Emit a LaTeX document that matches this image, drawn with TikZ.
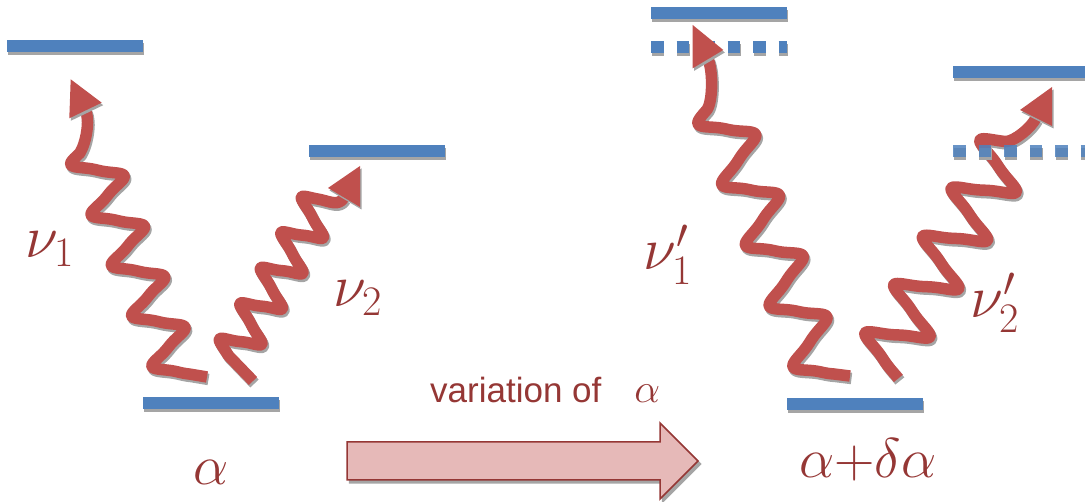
\RequirePackage{fix-cm}
\documentclass[tikz,border=0pt]{standalone}
\usepackage{fontspec}
\newfontfamily\captionsans{Liberation Sans}
\definecolor{barblue}{HTML}{4F81BD}
\definecolor{wavered}{HTML}{C0504D}
\definecolor{textred}{HTML}{953735}
\definecolor{arrowfill}{HTML}{E6B9B8}
\definecolor{shadowgrey}{HTML}{A5A5A5}
\begin{document}
\begin{tikzpicture}[x=1pt,y=-1pt,
  declare function={zz(\t)=0.9*(cos(360*\t)+cos(1080*\t)/9);},
  level/.style={rectangle, fill=barblue, minimum width=136pt, minimum height=12pt,
    inner sep=0pt, outer sep=0pt,
    preaction={fill=shadowgrey, transform canvas={shift={(0.8pt,-3pt)}}}},
  dashlevel/.style={draw=barblue, line width=12pt, dash pattern=on 12.5pt off 13pt,
    preaction={draw=shadowgrey, line width=12pt, dash pattern=on 12.5pt off 13pt,
      transform canvas={shift={(0.8pt,-3pt)}}}},
  photon/.style={draw=wavered, line width=11.5pt, line join=round,
    preaction={draw=shadowgrey, line width=11.5pt, line join=round,
      transform canvas={shift={(1.5pt,-2.5pt)}}}},
  photonhead/.style={fill=wavered,
    preaction={fill=shadowgrey, transform canvas={shift={(1.5pt,-2.5pt)}}}},
  freqlabel/.style={text=textred, inner sep=0pt, anchor=base west,
    font=\fontsize{60}{60}\selectfont},
  statelabel/.style={text=textred, inner sep=0pt, anchor=base,
    font=\fontsize{56}{56}\selectfont},
  bigarrow/.style={fill=arrowfill, draw=textred, line width=1.5pt, line join=miter,
    preaction={fill=shadowgrey, draw=shadowgrey, line width=1.5pt,
      transform canvas={shift={(2.5pt,-3pt)}}}}
]
\useasboundingbox (0,0) rectangle (1085,502);

% ---- left scheme: levels for alpha ----
\node[level] (upA)   at (75,46.5) {};
\node[level] (upB)   at (377,151) {};
\node[level] (gnd)   at (211,403) {};

% photon nu_1
\draw[photon] (207,377) -- plot[variable=\t, domain=-0.35:4.15, samples=221]
  ({173.6-20.3*\t-21.6*zz(\t)}, {359.5-50.5*\t+7*zz(\t)})
  .. controls (86,143) and (90.2,120.4) .. (85.5,110.5);
\fill[photonhead] (70.7,79.3) -- (69.3,118.3) -- (101.7,102.7) -- cycle;

% photon nu_2
\draw[photon] (253,381) -- plot[variable=\t, domain=-0.2:4.2, samples=221]
  ({235.5+20.5*\t-16*zz(\t)}, {350.5-35.5*\t-11.4*zz(\t)})
  .. controls (329,201) and (338.6,207) .. (344,197.5);
\fill[photonhead] (360,166) -- (328,188) -- (360,207) -- cycle;

\node[freqlabel] (nuA) at (25,258) {$\nu_1$};
\node[freqlabel] (nuB) at (333,307) {$\nu_2$};
\node[statelabel] (alphaA) at (211,485) {$\alpha$};

% ---- variation arrow ----
\draw[bigarrow] (347,442) -- (660,442) -- (660,423) -- (698,461)
  -- (660,499) -- (660,480) -- (347,480) -- cycle;
\node[text=textred, inner sep=0pt, anchor=base west,
  font=\captionsans\fontsize{35}{35}\selectfont] (vary) at (430,403)
  {variation of\hspace{33pt}{\fontsize{41}{41}\selectfont$\alpha$}};

% ---- right scheme: levels for alpha + delta alpha ----
\node[level] (upAs)  at (719,13) {};
\draw[dashlevel] (651,47.5) -- (787,47.5);
\node[level] (upBs)  at (1021,72) {};
\node[level] (gnds)  at (855,404) {};

% photon nu_1'
\draw[photon] (850,376) -- plot[variable=\t, domain=-0.35:4.15, samples=221]
  ({815.9-23.75*\t-22.9*zz(\t)}, {357-60.75*\t+9.8*zz(\t)})
  .. controls (713,100) and (712.9,70.1) .. (708,59.2);
\fill[photonhead] (692.7,25) -- (692.7,68.3) -- (723.3,50) -- cycle;

% photon nu_2'
\draw[photon] plot[variable=\t, domain=-0.42:4.2, samples=221]
  ({890.3+28.75*\t-25.3*zz(\t)}, {347-48.25*\t-14.05*zz(\t)})
  .. controls (1015,141) and (1031,127.8) .. (1036,118);
\fill[photonhead] (1052,87) -- (1020,110) -- (1052,126) -- cycle;

% shifted upper level drawn over the photon
\draw[dashlevel, opacity=0.85] (953,151.5) -- (1085,151.5);

\node[freqlabel] (nuAs) at (643,270) {$\nu'_1$};
\node[freqlabel] (nuBs) at (970,318) {$\nu'_2$};
\node[statelabel] (alphaB) at (868,478) {$\alpha{+}\delta\alpha$};
\end{tikzpicture}
\end{document}
